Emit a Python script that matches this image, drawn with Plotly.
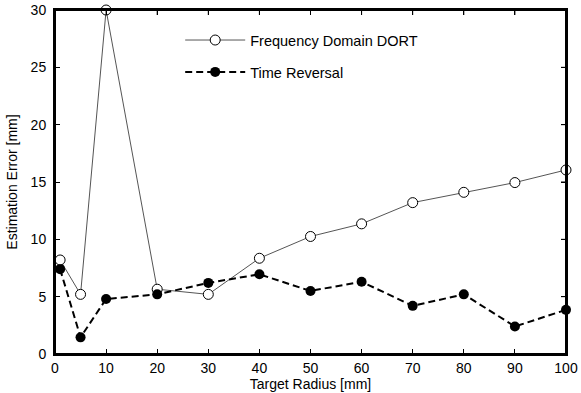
#### Import Modules ####
import plotly.graph_objects as go


#### Global Objects ####
radius = [1, 5, 10, 20, 30, 40, 50, 60, 70, 80, 90, 100]
dort_error = [8.2, 5.2, 30.0, 5.65, 5.2, 8.35, 10.25, 11.35, 13.2, 14.1, 14.95, 16.05]
tr_error = [7.4, 1.45, 4.8, 5.2, 6.2, 6.95, 5.5, 6.3, 4.2, 5.2, 2.4, 3.85]
x_ticks = [0, 10, 20, 30, 40, 50, 60, 70, 80, 90, 100]
y_ticks = [0, 5, 10, 15, 20, 25, 30]

FONT = "Liberation Sans, Arial, sans-serif"
PLOT_W, PLOT_H = 511, 344
TICK = 5


#### Build Figure ####
fig = go.Figure()

fig.add_trace(go.Scatter(x=radius, y=dort_error,
                         mode="lines+markers",
                         name="Frequency Domain DORT",
                         legendgroup="dort",
                         line=dict(color="#555555", width=1),
                         marker=dict(symbol="circle", size=10, color="white",
                                     line=dict(color="black", width=1)),
                         cliponaxis=False))

fig.add_trace(go.Scatter(x=radius, y=tr_error,
                         mode="lines+markers",
                         name="Time Reversal",
                         legendgroup="tr",
                         line=dict(color="black", width=2, dash="7px,4px"),
                         marker=dict(symbol="circle", size=10, color="black"),
                         cliponaxis=False))

axis_style = dict(showgrid=False, zeroline=False, showline=True,
                  linecolor="black", linewidth=2, mirror="allticks",
                  ticks="inside", ticklen=TICK, tickwidth=1, tickcolor="black",
                  automargin=False, ticklabeloverflow="allow",
                  tickfont=dict(family=FONT, size=14, color="black"))

# box frame plus the top / right tick marks
fig.add_shape(type="rect", xref="paper", yref="paper", x0=0, x1=1, y0=0, y1=1,
              line=dict(color="black", width=2), layer="above")
for xt in x_ticks[1:-1]:
    fig.add_shape(type="line", xref="x", yref="paper", x0=xt, x1=xt,
                  y0=1, y1=1 - TICK / PLOT_H, line=dict(color="black", width=1))
for yt in y_ticks[1:-1]:
    fig.add_shape(type="line", xref="paper", yref="y", x0=1, x1=1 - TICK / PLOT_W,
                  y0=yt, y1=yt, line=dict(color="black", width=1))

fig.update_layout(width=581, height=393,
                  margin=dict(l=55, r=15, t=10, b=39, autoexpand=False),
                  paper_bgcolor="white", plot_bgcolor="white",
                  font=dict(family=FONT, color="black"),
                  legend=dict(x=0.245, y=0.959, xanchor="left", yanchor="top",
                              bgcolor="rgba(0,0,0,0)", borderwidth=0,
                              font=dict(family=FONT, size=14.5),
                              itemwidth=60, tracegroupgap=10),
                  xaxis=dict(range=[0, 100], tickvals=x_ticks, ticklabelstandoff=0,
                             title=dict(text="Target Radius [mm]", standoff=0,
                                        font=dict(family=FONT, size=14)),
                             **axis_style),
                  yaxis=dict(range=[0, 30], tickvals=y_ticks, ticklabelstandoff=4,
                             title=dict(text="Estimation Error [mm]", standoff=10,
                                        font=dict(family=FONT, size=14)),
                             **axis_style))

# drop the browser's default 8px body margin so the figure sits at the window corner
fig.write_html("out.html", config={"displayModeBar": False},
               post_script="document.body.style.margin='0px';")
